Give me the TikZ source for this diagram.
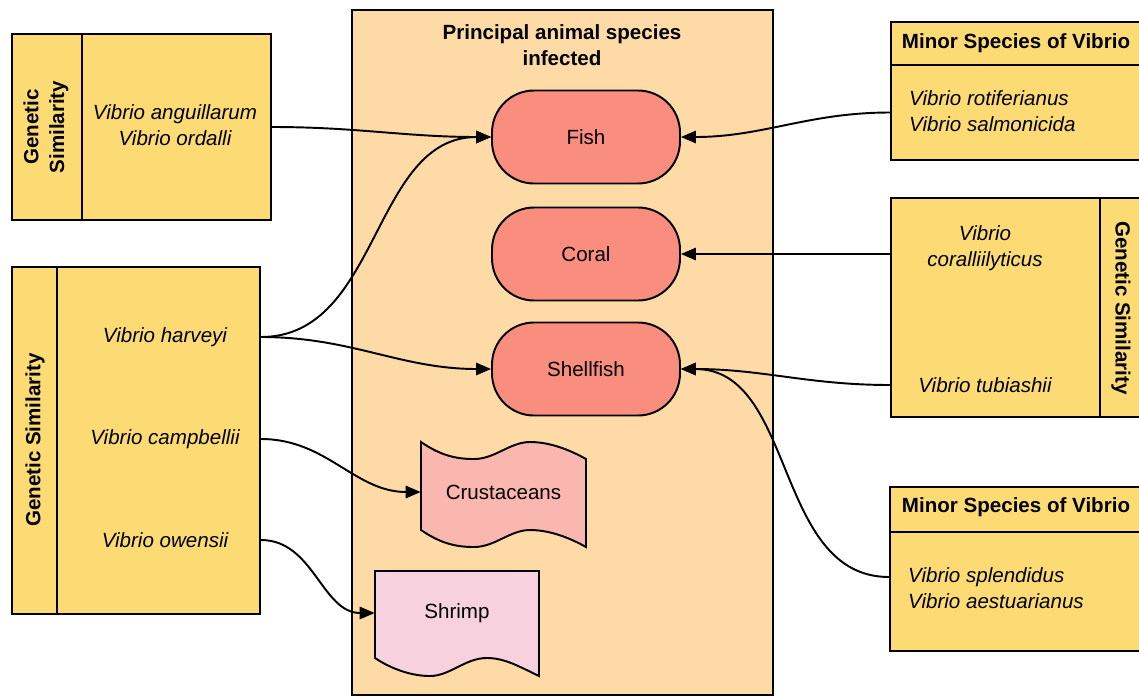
\documentclass[tikz,border=0pt]{standalone}
\usepackage{fontspec}
\setmainfont{Liberation Sans}
\usetikzlibrary{calc,arrows.meta,positioning,fit}
\definecolor{vyellow}{HTML}{FDDB74}
\definecolor{hostbg}{HTML}{FDDAA6}
\definecolor{salmon}{HTML}{F98D7E}
\definecolor{crustpink}{HTML}{F9B7AF}
\definecolor{shrimppink}{HTML}{F7D1DD}
\begin{document}
\begin{tikzpicture}[x=0.02cm,y=-0.02cm,
  font=\fontsize{11.7}{14.7}\selectfont,
  box/.style={draw,line width=1.1pt,fill=vyellow,inner sep=0pt},
  host/.style={draw,line width=1.1pt,fill=salmon,rounded corners=0.84cm,
    minimum width=3.76cm,minimum height=1.86cm},
  conn/.style={line width=1.1pt,-{Triangle[length=8.5pt,width=7pt]}},
  sp/.style={font=\fontsize{11.7}{14.7}\selectfont\itshape},
  hd/.style={font=\fontsize{11.7}{14.7}\selectfont\bfseries}]
  \clip (0,0) rectangle (1139,697);
  % principal hosts
  \node[box,fill=hostbg,fit={(352,10) (773,695)}] (main) {};
  \node[hd,align=center] (title) at (562,45) {Principal animal species\\infected};
  \node[host] (fish) at (586,137) {Fish};
  \node[host] (coral) at (586,254) {Coral};
  \node[host] (shell) at (586,369) {Shellfish};
  \draw[line width=1.1pt,fill=crustpink] (421,442)
    .. controls (440,455) and (455,459) .. (474,459)
    .. controls (495,459) and (510,442) .. (530,442)
    .. controls (550,442) and (570,450) .. (586,459) -- (586,547)
    .. controls (570,538) and (550,530) .. (530,530)
    .. controls (510,530) and (495,547) .. (474,547)
    .. controls (455,547) and (440,543) .. (421,530) -- cycle;
  \node[minimum width=3.3cm,inner sep=0pt] (crust) at (503.5,492) {Crustaceans};
  \draw[line width=1.1pt,fill=shrimppink] (375,571) -- (539,571) -- (539,676)
    .. controls (520,667) and (505,658) .. (487,658)
    .. controls (465,658) and (450,676) .. (430,676)
    .. controls (410,676) and (390,668) .. (375,658) -- cycle;
  \node[minimum width=3.28cm,inner sep=0pt] (shrimp) at (457,613) {Shrimp};
  % left boxes
  \node[box,fit={(12,34) (271,220)}] (gs1) {};
  \draw[line width=1.1pt] (82,34) -- (82,220);
  \node[hd,rotate=90,align=center] (gs1lab) at (46,127) {Genetic\\Similarity};
  \node[sp,align=center] (vang) at (175,125) {Vibrio anguillarum\\Vibrio ordalli};
  \node[box,fit={(12,267) (260,614)}] (gs2) {};
  \draw[line width=1.1pt] (57,267) -- (57,614);
  \node[hd,rotate=90] (gs2lab) at (35,440) {Genetic Similarity};
  \node[sp] (vhar) at (165,337) {Vibrio harveyi};
  \node[sp] (vcam) at (165,439) {Vibrio campbellii};
  \node[sp] (vowe) at (165,540) {Vibrio owensii};
  % right boxes
  \node[box,fit={(891,22) (1160,65)}] (head1) {};
  \node[box,fit={(891,65) (1160,160)}] (body1) {};
  \node[hd] (minor1) at (1016,43) {Minor Species of Vibrio};
  \node[sp,align=left,anchor=west] (vrot) at (903,111) {Vibrio rotiferianus\\Vibrio salmonicida};
  \node[box,fit={(891,198) (1160,417)}] (gs3) {};
  \draw[line width=1.1pt] (1100,198) -- (1100,417);
  \node[hd,rotate=-90] (gs3lab) at (1121,308) {Genetic Similarity};
  \node[sp,align=center] (vcor) at (985,248) {Vibrio\\coralliilyticus};
  \node[sp] (vtub) at (985,385) {Vibrio tubiashii};
  \node[box,fit={(890,487) (1160,532)}] (head2) {};
  \node[box,fit={(890,532) (1160,651)}] (body2) {};
  \node[hd] (minor2) at (1016,507) {Minor Species of Vibrio};
  \node[sp,anchor=west] (vspl) at (902,577) {Vibrio splendidus};
  \node[sp,anchor=west] (vaes) at (902,601) {Vibrio aestuarianus};
  % connectors
  \draw[conn] (gs1.east) to[out=0,in=180] (fish.west);
  \draw[conn] (vhar -| gs2.east) to[out=0,in=180] (fish.west);
  \draw[conn] (vhar -| gs2.east) to[out=0,in=180] (shell.west);
  \draw[conn] (vcam -| gs2.east) to[out=0,in=180] (crust.west);
  \draw[conn] (vowe -| gs2.east) to[out=0,in=180] (shrimp.west);
  \draw[conn] (body1.west) to[out=180,in=0] (fish.east);
  \draw[conn] (coral.east -| gs3.west) -- (coral.east);
  \draw[conn] (vtub -| gs3.west) to[out=180,in=0] (shell.east);
  \draw[conn] (vspl -| body2.west) to[out=180,in=0] (shell.east);
\end{tikzpicture}
\end{document}
